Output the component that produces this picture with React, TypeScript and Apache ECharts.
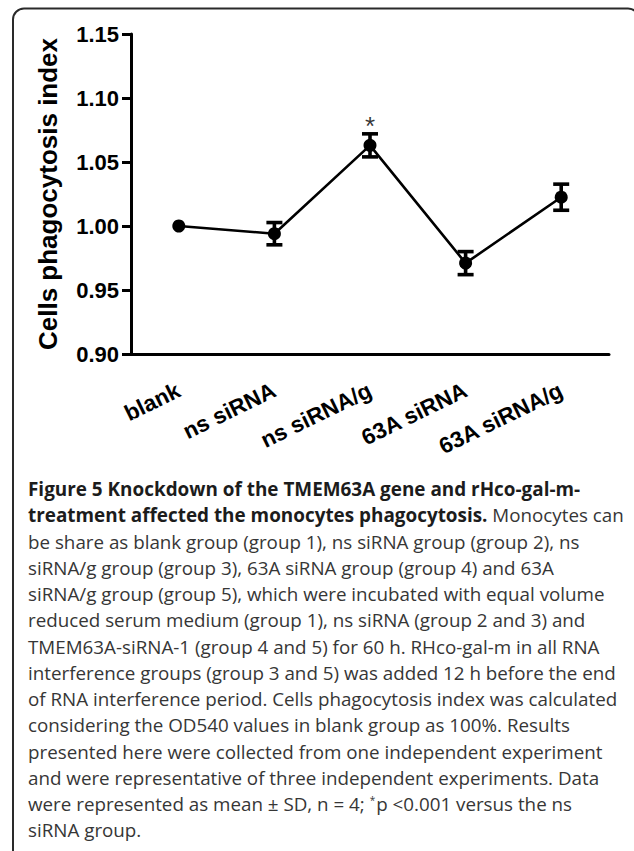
import React, { useEffect, useRef } from 'react';
import * as echarts from 'echarts';

const categories = ['blank', 'ns siRNA', 'ns siRNA/g', '63A siRNA', '63A siRNA/g'];
const means = [1.0, 0.994, 1.063, 0.971, 1.0225];
const sds = [0, 0.0087, 0.009, 0.009, 0.0102];
const marks = ['', '', '*', '', ''];
const yMin = 0.9;
const yMax = 1.15;
const yStep = 0.05;
const yAxisName = 'Cells phagocytosis index';

type Seg = [string, string];
const captionLines: Seg[][] = [
  [['b', 'Figure 5 Knockdown of the TMEM63A gene and rHco-gal-m-']],
  [['b', 'treatment affected the monocytes phagocytosis.'], ['r', ' Monocytes can']],
  [['r', 'be share as blank group (group 1), ns siRNA group (group 2), ns']],
  [['r', 'siRNA/g group (group 3), 63A siRNA group (group 4) and 63A']],
  [['r', 'siRNA/g group (group 5), which were incubated with equal volume']],
  [['r', 'reduced serum medium (group 1), ns siRNA (group 2 and 3) and']],
  [['r', 'TMEM63A-siRNA-1 (group 4 and 5) for 60 h. RHco-gal-m in all RNA']],
  [['r', 'interference groups (group 3 and 5) was added 12 h before the end']],
  [['r', 'of RNA interference period. Cells phagocytosis index was calculated']],
  [['r', 'considering the OD540 values in blank group as 100%. Results']],
  [['r', 'presented here were collected from one independent experiment']],
  [['r', 'and were representative of three independent experiments. Data']],
  [['r', 'were represented as mean \u00b1 SD, n = 4; '], ['sup', '*'], ['r', 'p <0.001 versus the ns']],
  [['r', 'siRNA group.']],
];

const AXIS_FONT = '"Liberation Sans", Arial, sans-serif';
const CAP_FONT = '"Open Sans", "Noto Sans", sans-serif';

export default function App() {
  const ref = useRef<HTMLDivElement>(null);
  useEffect(() => {
    if (!ref.current) return;
    const chart = echarts.init(ref.current, null, { renderer: 'svg' });

    const capStart = 489;
    const capStep = 26.25;
    const captionGraphics = captionLines.map((line, i) => ({
      type: 'text',
      x: 28,
      y: capStart + i * capStep,
      style: {
        text: line.map(([s, t]) => `{${s}|${t}}`).join(''),
        verticalAlign: 'middle',
        rich: {
          b: { fontFamily: CAP_FONT, fontSize: 18.9, fontWeight: 'bold', fill: '#1c1c1c' },
          r: { fontFamily: CAP_FONT, fontSize: 18.8, fill: '#363636' },
          sup: { fontFamily: CAP_FONT, fontSize: 10, fill: '#363636', verticalAlign: 'top', padding: [0, 1, 8, 0] },
        },
      },
    }));

    const errData = categories.map((_, i) => [i, means[i], sds[i]]);
    const markData = marks
      .map((m, i) => (m ? { value: [i, means[i] + sds[i]], mark: m } : null))
      .filter(Boolean);

    chart.setOption({
      animation: false,
      backgroundColor: '#fff',
      grid: { left: 131, right: 25, top: 34, bottom: 497, containLabel: false },
      xAxis: {
        type: 'category',
        data: categories,
        boundaryGap: true,
        axisLine: { lineStyle: { color: '#000', width: 3 } },
        axisTick: { alignWithLabel: true, length: 10, lineStyle: { color: '#000', width: 3 } },
        axisLabel: {
          interval: 0,
          rotate: 26,
          margin: 35,
          fontSize: 22.5,
          fontWeight: 'bold',
          fontFamily: AXIS_FONT,
          color: '#000',
        },
        splitLine: { show: false },
      },
      yAxis: {
        type: 'value',
        min: yMin,
        max: yMax,
        interval: yStep,
        name: yAxisName,
        nameLocation: 'middle',
        nameGap: 70,
        nameTextStyle: { fontSize: 26, fontWeight: 'bold', fontFamily: AXIS_FONT, color: '#000' },
        axisLine: { show: true, lineStyle: { color: '#000', width: 3 } },
        axisTick: { show: true, length: 9, lineStyle: { color: '#000', width: 3 } },
        axisLabel: {
          margin: 12,
          fontSize: 22,
          fontWeight: 'bold',
          fontFamily: AXIS_FONT,
          color: '#000',
          formatter: (v: number) => v.toFixed(2),
        },
        splitLine: { show: false },
      },
      series: [
        {
          type: 'line',
          data: means,
          symbol: 'circle',
          symbolSize: 13,
          lineStyle: { color: '#000', width: 2.6 },
          itemStyle: { color: '#000' },
          z: 3,
        },
        {
          type: 'custom',
          data: errData,
          encode: { x: 0, y: 1 },
          z: 4,
          renderItem: (params: any, api: any) => {
            const i = api.value(0);
            const m = api.value(1);
            const s = api.value(2);
            if (!s) return { type: 'group', children: [] };
            const top = api.coord([i, m + s]);
            const bot = api.coord([i, m - s]);
            const hw = 8;
            const style = { stroke: '#000', lineWidth: 3.6 };
            return {
              type: 'group',
              children: [
                { type: 'line', shape: { x1: top[0], y1: top[1], x2: bot[0], y2: bot[1] }, style },
                { type: 'line', shape: { x1: top[0] - hw, y1: top[1], x2: top[0] + hw, y2: top[1] }, style },
                { type: 'line', shape: { x1: bot[0] - hw, y1: bot[1], x2: bot[0] + hw, y2: bot[1] }, style },
              ],
            };
          },
        },
        {
          type: 'scatter',
          data: markData,
          symbolSize: 0,
          z: 5,
          label: {
            show: true,
            position: 'top',
            distance: 0,
            offset: [0, 5],
            formatter: (p: any) => p.data.mark,
            fontSize: 26,
            fontFamily: AXIS_FONT,
            color: '#000',
          },
        },
      ],
      graphic: [
        {
          type: 'rect',
          shape: { x: 13, y: 8.5, width: 626, height: 860, r: [11, 11, 0, 0] },
          style: { fill: 'none', stroke: '#2a2a2a', lineWidth: 2 },
          silent: true,
        },
        ...captionGraphics,
      ],
    });
    return () => chart.dispose();
  }, []);

  return <div ref={ref} style={{ position: 'fixed', left: 0, top: 0, width: 634, height: 851 }} />;
}
